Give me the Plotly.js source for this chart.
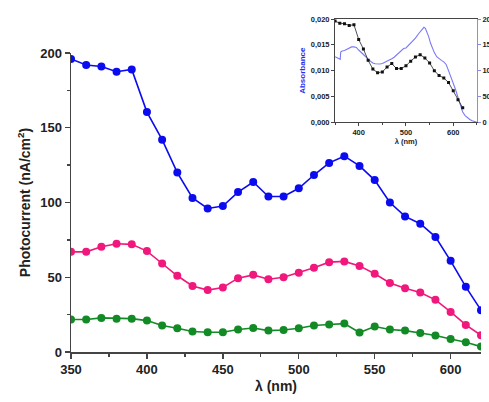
<!DOCTYPE html>
<html>
<head>
<meta charset="utf-8">
<script src="https://cdn.plot.ly/plotly-3.0.1.min.js"></script>
<style>html,body{margin:0;padding:0;background:#fff;}#chart{width:489px;height:402px;}</style>
</head>
<body>
<div id="chart"></div>
<script>
// Main chart data
const wavelength = [350,360,370,380,390,400,410,420,430,440,450,460,470,480,490,500,510,520,530,540,550,560,570,580,590,600,610,620];
const blueSeries = [196,192,191,187.5,189,160.5,142,120,103,96,97.6,107,113.7,104,104,109.5,118.4,126.5,131,124.5,115,100,90.7,85.8,77,61,43.6,28];
const pinkSeries = [67,67,70.4,72.4,72,67.5,59.2,51,44.2,41.4,43.2,49.4,51.6,48.7,50,53,56.3,60.1,60.6,57.6,52.3,46.2,42.7,39.8,34.9,26.8,18.1,11.2];
const greenSeries = [21.7,21.7,22.8,22.3,22.3,21,17.7,15.9,13.7,13.2,13.2,15,16.1,14.3,14.7,15.9,17.7,18.4,19,13,17,15,14.3,12.7,11,8.7,6.5,3.6];

// Inset: absorbance spectrum
const absWavelength = [350,354,358,361,362,365,370,375,380,385,390,395,400,405,410,415,420,425,430,435,440,445,450,455,460,465,470,475,480,485,490,495,500,510,520,527,533,538,541,545,548,552,556,560,565,570,575,580,585,590,595,600,605,610,615,620,625,630,635,640,645,650];
const absorbance = [0.0127,0.0125,0.0124,0.0122,0.0136,0.0138,0.0139,0.0141,0.0144,0.0146,0.0146,0.0145,0.0140,0.0136,0.0132,0.0127,0.0122,0.0118,0.0115,0.01135,0.0113,0.0113,0.0114,0.0116,0.0118,0.0120,0.0123,0.0126,0.0130,0.0134,0.0138,0.0143,0.0144,0.0153,0.0163,0.0172,0.0179,0.0184,0.0182,0.0174,0.0166,0.0153,0.0143,0.0135,0.0127,0.0123,0.0120,0.0117,0.0112,0.0100,0.0088,0.0078,0.0063,0.0048,0.0032,0.0020,0.0013,0.0009,0.00055,0.0003,0.0001,0.0];

const FONT = 'Liberation Sans, Arial, sans-serif';

const traces = [
  {x: wavelength, y: blueSeries, type:'scatter', mode:'lines+markers', xaxis:'x', yaxis:'y',
   line:{color:'#0b0bef', width:1.6}, marker:{color:'#0b0bef', size:8}},
  {x: wavelength, y: pinkSeries, type:'scatter', mode:'lines+markers', xaxis:'x', yaxis:'y',
   line:{color:'#f0187c', width:1.6}, marker:{color:'#f0187c', size:8}},
  {x: wavelength, y: greenSeries, type:'scatter', mode:'lines+markers', xaxis:'x', yaxis:'y',
   line:{color:'#128a25', width:1.6}, marker:{color:'#128a25', size:8}},
  {x: absWavelength, y: absorbance, type:'scatter', mode:'lines', xaxis:'x2', yaxis:'y2',
   line:{color:'#7a7af5', width:1.1}},
  {x: wavelength, y: blueSeries, type:'scatter', mode:'lines+markers', xaxis:'x2', yaxis:'y3',
   line:{color:'#222', width:0.8}, marker:{color:'#111', size:3, symbol:'square'}}
];

const axisLine = '#444';
const layout = {
  width: 489, height: 402,
  margin: {l: 71, r: 8, t: 15, b: 50},
  paper_bgcolor: '#fff', plot_bgcolor: 'rgba(0,0,0,0)',
  showlegend: false,
  separators: ',.',
  font: {family: FONT, color: '#222'},
  xaxis: {
    domain: [0, 1], anchor: 'y', range: [350, 620],
    tickmode: 'linear', tick0: 350, dtick: 50,
    ticks: 'outside', ticklen: 5, tickwidth: 1.3, tickcolor: axisLine,
    minor: {dtick: 25, ticks: 'outside', ticklen: 3, tickcolor: axisLine, showgrid: false},
    showline: true, linecolor: axisLine, linewidth: 1.5,
    showgrid: false, zeroline: false,
    tickfont: {size: 13, weight: 'bold', family: FONT, color: '#222'},
    title: {text: 'λ (nm)', font: {size: 14, weight: 'bold', family: FONT, color: '#222'}, standoff: 5}
  },
  yaxis: {
    domain: [0, 0.8872], anchor: 'x', range: [0, 200],
    tickmode: 'linear', tick0: 0, dtick: 50,
    ticks: 'outside', ticklen: 5, tickwidth: 1.3, tickcolor: axisLine,
    minor: {dtick: 25, ticks: 'outside', ticklen: 3, tickcolor: axisLine, showgrid: false},
    showline: true, linecolor: axisLine, linewidth: 1.5,
    showgrid: false, zeroline: false,
    tickfont: {size: 13, weight: 'bold', family: FONT, color: '#222'},
    title: {text: 'Photocurrent (nA/cm<sup>2</sup>)', font: {size: 14, weight: 'bold', family: FONT, color: '#222'}, standoff: 6}
  },
  xaxis2: {
    domain: [0.644, 0.99], anchor: 'y2', range: [350, 650],
    tickmode: 'linear', tick0: 400, dtick: 100,
    ticks: 'outside', ticklen: 3, tickwidth: 1, tickcolor: axisLine,
    minor: {dtick: 50, ticks: 'outside', ticklen: 2, tickcolor: axisLine, showgrid: false},
    showline: true, linecolor: axisLine, linewidth: 1, mirror: true,
    showgrid: false, zeroline: false,
    tickfont: {size: 7.5, weight: 'bold', family: FONT, color: '#222'},
    title: {text: 'λ (nm)', font: {size: 7.5, weight: 'bold', family: FONT, color: '#222'}, standoff: 2}
  },
  yaxis2: {
    domain: [0.6816, 0.988], anchor: 'x2', range: [0, 0.02],
    tickmode: 'linear', tick0: 0, dtick: 0.005, tickformat: '.3f',
    ticks: 'outside', ticklen: 3, tickwidth: 1, tickcolor: axisLine,
    showline: true, linecolor: axisLine, linewidth: 1,
    showgrid: false, zeroline: false,
    tickfont: {size: 7.5, weight: 'bold', family: FONT, color: '#222'},
    title: {text: 'Absorbance', font: {size: 8, weight: 'bold', family: FONT, color: '#2a2aee'}, standoff: 3}
  },
  yaxis3: {
    overlaying: 'y2', side: 'right', anchor: 'x2', range: [0, 200],
    tickmode: 'linear', tick0: 0, dtick: 50,
    ticks: 'outside', ticklen: 3, tickwidth: 1, tickcolor: '#8a8af5',
    showline: true, linecolor: '#8a8af5', linewidth: 1,
    showgrid: false, zeroline: false,
    tickfont: {size: 7.5, weight: 'bold', family: FONT, color: '#222'}
  }
};

Plotly.newPlot('chart', traces, layout, {staticPlot: true, displayModeBar: false});
</script>
</body>
</html>
